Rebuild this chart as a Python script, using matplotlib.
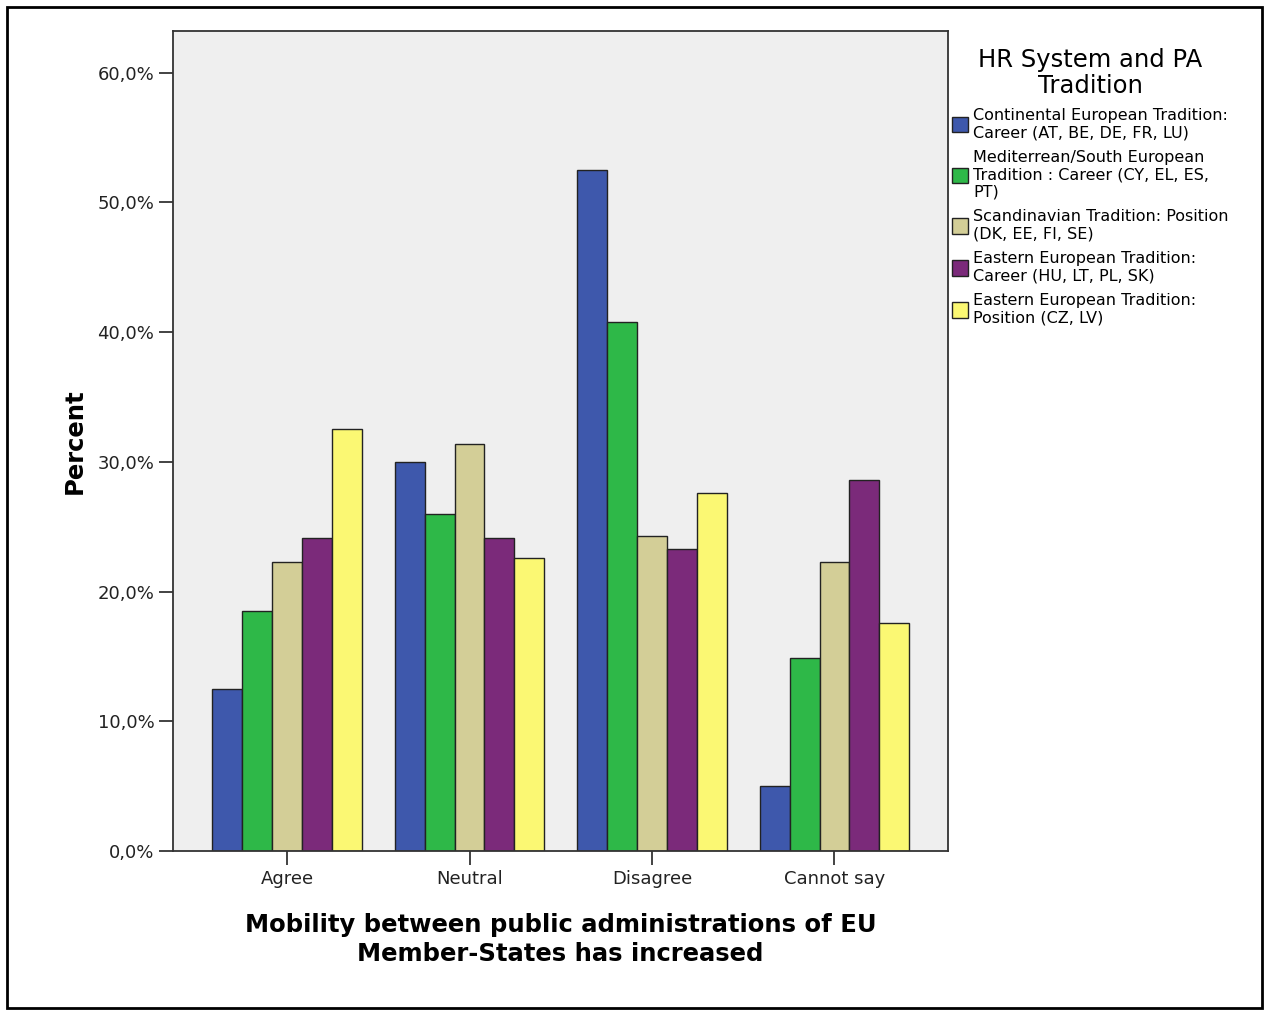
import numpy as np
import matplotlib
matplotlib.use("Agg")
import matplotlib.pyplot as plt
from matplotlib.patches import Rectangle, Patch
from matplotlib.ticker import FuncFormatter

categories = ["Agree", "Neutral", "Disagree", "Cannot say"]
series_names = [
    "Continental European Tradition:\nCareer (AT, BE, DE, FR, LU)",
    "Mediterrean/South European\nTradition : Career (CY, EL, ES,\nPT)",
    "Scandinavian Tradition: Position\n(DK, EE, FI, SE)",
    "Eastern European Tradition:\nCareer (HU, LT, PL, SK)",
    "Eastern European Tradition:\nPosition (CZ, LV)",
]
# values per series across categories (percent)
continental = [12.5, 30.0, 52.5, 5.0]
mediterranean = [18.5, 26.0, 40.8, 14.9]
scandinavian = [22.3, 31.4, 24.3, 22.3]
eastern_career = [24.1, 24.1, 23.3, 28.6]
eastern_position = [32.5, 22.6, 27.6, 17.6]
colors = ["#3E58AC", "#2EB848", "#D3CE97", "#7B2A7A", "#FBF873"]

all_series = [continental, mediterranean, scandinavian, eastern_career, eastern_position]

fig = plt.figure(figsize=(12.64, 10.10), dpi=100)
ax = fig.add_axes([173/1264, 1 - 851/1010, (948 - 173)/1264, (851 - 31)/1010])
ax.set_facecolor("#EFEFEF")

x = np.arange(len(categories))
w = 0.164
for i, vals in enumerate(all_series):
    ax.bar(x + (i - 2) * w, vals, w, color=colors[i], edgecolor="#222222", linewidth=1.0, zorder=2)

ax.set_xlim(-0.625, 3.622)
ax.set_ylim(0, 63.2)
ax.set_yticks([0, 10, 20, 30, 40, 50, 60])
ax.yaxis.set_major_formatter(FuncFormatter(lambda v, p: f"{v:.1f}%".replace(".", ",")))
ax.set_xticks(x)
ax.set_xticklabels(categories)
ax.tick_params(axis="both", direction="out", length=10, width=1.2, labelsize=13, colors="#222222")
for s in ax.spines.values():
    s.set_linewidth(1.3)
    s.set_color("#333333")

ax.set_ylabel("Percent", fontsize=17.5, fontweight="bold", labelpad=8)
ax.set_xlabel("Mobility between public administrations of EU\nMember-States has increased",
              fontsize=17.5, fontweight="bold", linespacing=1.3, labelpad=18)

handles = [Patch(facecolor=c, edgecolor="#222222") for c in colors]
leg = fig.legend(handles, series_names, loc="upper left", bbox_to_anchor=(946/1264, 1 - 42/1010),
                 frameon=False, fontsize=11.5, title="HR System and PA\nTradition",
                 title_fontsize=17.5, handlelength=0.95, handleheight=1.1, handletextpad=0.35,
                 labelspacing=0.6, borderaxespad=0, alignment="center")
leg.get_title().set_linespacing(1.1)
leg.get_title().set_multialignment("center")
for t in leg.get_texts():
    t.set_linespacing(1.2)

fig.patches.append(Rectangle((7/1264, 2/1010), 1255/1264, 1001/1010, transform=fig.transFigure,
                             fill=False, edgecolor="black", linewidth=2))

fig.savefig("out.png", dpi=100)
